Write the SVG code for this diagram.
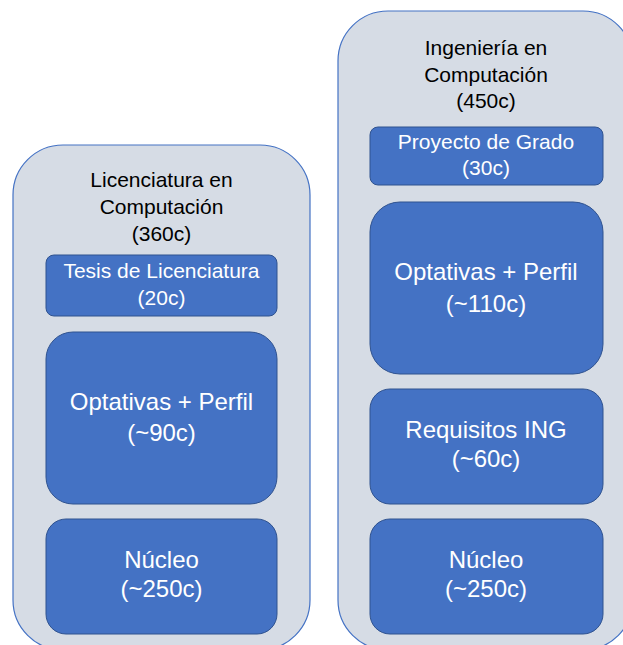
<svg xmlns="http://www.w3.org/2000/svg" width="623" height="645" viewBox="0 0 623 645">
<style>
.outer{fill:#D6DCE5;stroke:#4472C4;stroke-width:1.2}
.inner{fill:#4472C4;stroke:#2F528F;stroke-width:1}
text{font-family:"Liberation Sans",Arial,sans-serif;text-anchor:middle}
.t{fill:#000;font-size:21px}
.w{fill:#fff;font-size:21px}
.wb{fill:#fff;font-size:24px}
</style>
<rect width="623" height="645" fill="#fff"/>
<g id="licenciatura">
<rect class="outer" x="13" y="145" width="297" height="505" rx="50"/>
<text class="t" x="161.5" y="187">Licenciatura en</text>
<text class="t" x="161.5" y="214">Computación</text>
<text class="t" x="161.5" y="241">(360c)</text>
</g>
<g id="tesis">
<rect class="inner" x="46" y="255" width="231" height="61" rx="8"/>
<text class="w" x="161.5" y="278">Tesis de Licenciatura</text>
<text class="w" x="161.5" y="305">(20c)</text>
</g>
<g id="optativas-lic">
<rect class="inner" x="46" y="332" width="231" height="172" rx="27"/>
<text class="wb" x="161.5" y="410">Optativas + Perfil</text>
<text class="wb" x="161.5" y="441">(~90c)</text>
</g>
<g id="nucleo-lic">
<rect class="inner" x="46" y="519" width="231" height="115" rx="20"/>
<text class="wb" x="161.5" y="568">Núcleo</text>
<text class="wb" x="161.5" y="597">(~250c)</text>
</g>
<g id="ingenieria">
<rect class="outer" x="338" y="11" width="295" height="639" rx="50"/>
<text class="t" x="486" y="55">Ingeniería en</text>
<text class="t" x="486" y="82">Computación</text>
<text class="t" x="486" y="108">(450c)</text>
</g>
<g id="proyecto">
<rect class="inner" x="370" y="127" width="233" height="58" rx="8"/>
<text class="w" x="486" y="149">Proyecto de Grado</text>
<text class="w" x="486" y="175">(30c)</text>
</g>
<g id="optativas-ing">
<rect class="inner" x="370" y="202" width="233" height="172" rx="30"/>
<text class="wb" x="486" y="280">Optativas + Perfil</text>
<text class="wb" x="486" y="312">(~110c)</text>
</g>
<g id="requisitos">
<rect class="inner" x="370" y="389" width="233" height="115" rx="20"/>
<text class="wb" x="486" y="438">Requisitos ING</text>
<text class="wb" x="486" y="467">(~60c)</text>
</g>
<g id="nucleo-ing">
<rect class="inner" x="370" y="519" width="233" height="115" rx="20"/>
<text class="wb" x="486" y="568">Núcleo</text>
<text class="wb" x="486" y="597">(~250c)</text>
</g>
<g id="connectors"></g>
</svg>
